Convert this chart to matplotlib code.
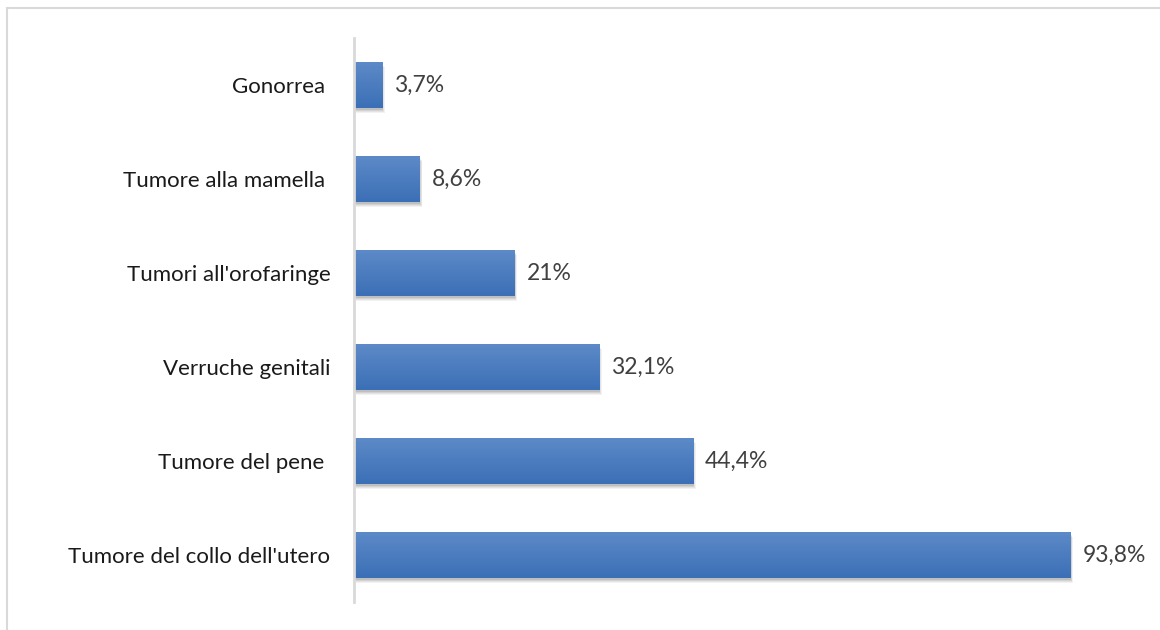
import numpy as np
import matplotlib
matplotlib.use("Agg")
import matplotlib.pyplot as plt
from matplotlib.patches import Rectangle
from matplotlib.colors import LinearSegmentedColormap

categories = [
    "Tumore del collo dell'utero",
    "Tumore del pene ",
    "Verruche genitali",
    "Tumori all'orofaringe",
    "Tumore alla mamella ",
    "Gonorrea ",
]
values = [93.8, 44.4, 32.1, 21.0, 8.6, 3.7]
value_labels = ["93,8%", "44,4%", "32,1%", "21%", "8,6%", "3,7%"]

plt.rcParams["font.family"] = ["Lato", "DejaVu Sans"]

W, H = 1160, 630
fig = plt.figure(figsize=(W / 100, H / 100), dpi=100)
fig.patch.set_facecolor("white")

# light frame around the chart area
fig.add_artist(Rectangle((7 / W, -0.05), 1.2, 1 - 8 / H + 0.05,
                         transform=fig.transFigure, fill=False,
                         edgecolor="#d9d9d9", linewidth=1.5))

ax = fig.add_axes([354 / W, 28 / H, 764 / W, 564 / H])
ax.set_xlim(0, 100)
ax.set_ylim(-0.5, len(categories) - 0.5)

bar_h = 0.48
px_x = 100 / 764.0
px_y = len(categories) / 564.0

grad = LinearSegmentedColormap.from_list("bar", ["#3b6fb6", "#5d8ac8"])
g = np.linspace(0, 1, 256).reshape(-1, 1)

ypos = np.arange(len(categories))
for y, v, lab in zip(ypos, values, value_labels):
    # soft drop shadow
    for k, a in enumerate([0.05, 0.06, 0.07, 0.09]):
        off = 4 - k
        ax.add_patch(Rectangle((off * 0.6 * px_x, y - bar_h / 2 - (off + 1) * px_y),
                               v, bar_h, facecolor="black", alpha=a,
                               edgecolor="none", zorder=1))
    rect = Rectangle((0, y - bar_h / 2), v, bar_h, facecolor="none",
                     edgecolor="none", zorder=3)
    ax.add_patch(rect)
    im = ax.imshow(g, cmap=grad, aspect="auto", origin="lower",
                   extent=(0, v, y - bar_h / 2, y + bar_h / 2), zorder=2)
    im.set_clip_path(rect)
    ax.text(v + 12 * px_x, y, lab,
            va="center", ha="left", fontsize=16.5, color="#404040")

ax.set_xlim(0, 100)
ax.set_ylim(-0.5, len(categories) - 0.5)

ax.set_yticks(ypos)
ax.set_yticklabels(categories, fontsize=16, color="#1a1a1a")
ax.tick_params(axis="y", length=0, pad=17)
ax.set_xticks([])
for s in ["top", "right", "bottom"]:
    ax.spines[s].set_visible(False)
ax.spines["left"].set_color("#d9d9d9")
ax.spines["left"].set_linewidth(2)
ax.spines["left"].set_zorder(5)
ax.set_facecolor("none")

fig.savefig("out.png", dpi=100, facecolor="white")
